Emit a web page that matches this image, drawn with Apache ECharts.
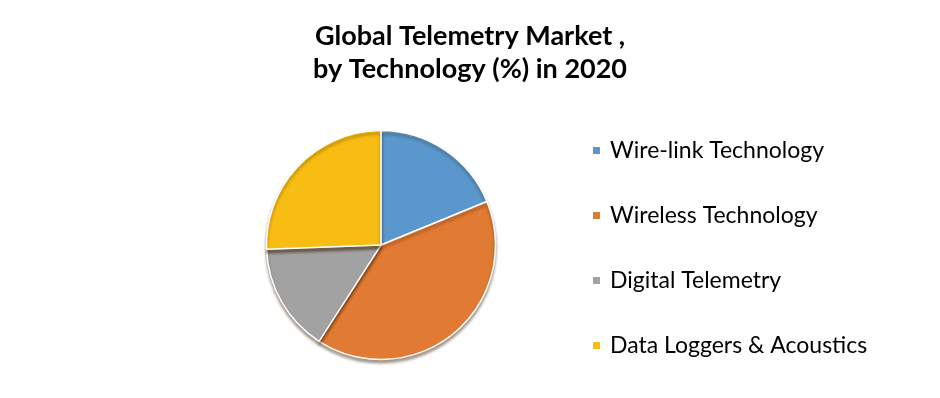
<!DOCTYPE html>
<html>
<head>
<meta charset="utf-8">
<script src="https://cdn.jsdelivr.net/npm/echarts@6/dist/echarts.min.js"></script>
<style>
html,body{margin:0;padding:0;background:#fff;}
#chart{width:940px;height:398px;}
</style>
</head>
<body>
<div id="chart"></div>
<script>
var categories = ["Wire-link Technology", "Wireless Technology", "Digital Telemetry", "Data Loggers & Acoustics"];
var values = [18.8, 40.3, 15.3, 25.6];
var colors = ["#5a97cc", "#e17a33", "#a2a2a2", "#f8bd12"];
var titleText = "Global Telemetry Market ,\nby Technology (%) in 2020";

var chart = echarts.init(document.getElementById('chart'), null, {renderer: 'canvas'});
var data = categories.map(function (c, i) {
  return {name: c, value: values[i], itemStyle: {color: colors[i]}};
});
chart.setOption({
  backgroundColor: '#ffffff',
  animation: false,
  title: {
    text: titleText,
    left: 'center',
    top: 20,
    padding: 0,
    textStyle: {
      fontFamily: 'Lato',
      fontSize: 27,
      fontWeight: 'bold',
      color: '#000',
      lineHeight: 33
    }
  },
  legend: {
    orient: 'vertical',
    left: 591,
    top: 138,
    padding: 0,
    icon: 'rect',
    itemWidth: 9,
    itemHeight: 9,
    itemGap: 40,
    textStyle: {
      fontFamily: 'Lato',
      fontSize: 23,
      color: '#000',
      lineHeight: 25,
      padding: [0, 0, 0, 4]
    },
    data: categories
  },
  series: [{
    type: 'pie',
    center: [381, 245],
    radius: 114.5,
    startAngle: 90,
    clockwise: true,
    label: {show: false},
    labelLine: {show: false},
    itemStyle: {
      borderColor: '#ffffff',
      borderWidth: 1.5,
      shadowColor: 'rgba(60,30,0,0.45)',
      shadowOffsetY: 3,
      shadowBlur: 3
    },
    emphasis: {disabled: true},
    data: data
  }]
});
</script>
</body>
</html>
